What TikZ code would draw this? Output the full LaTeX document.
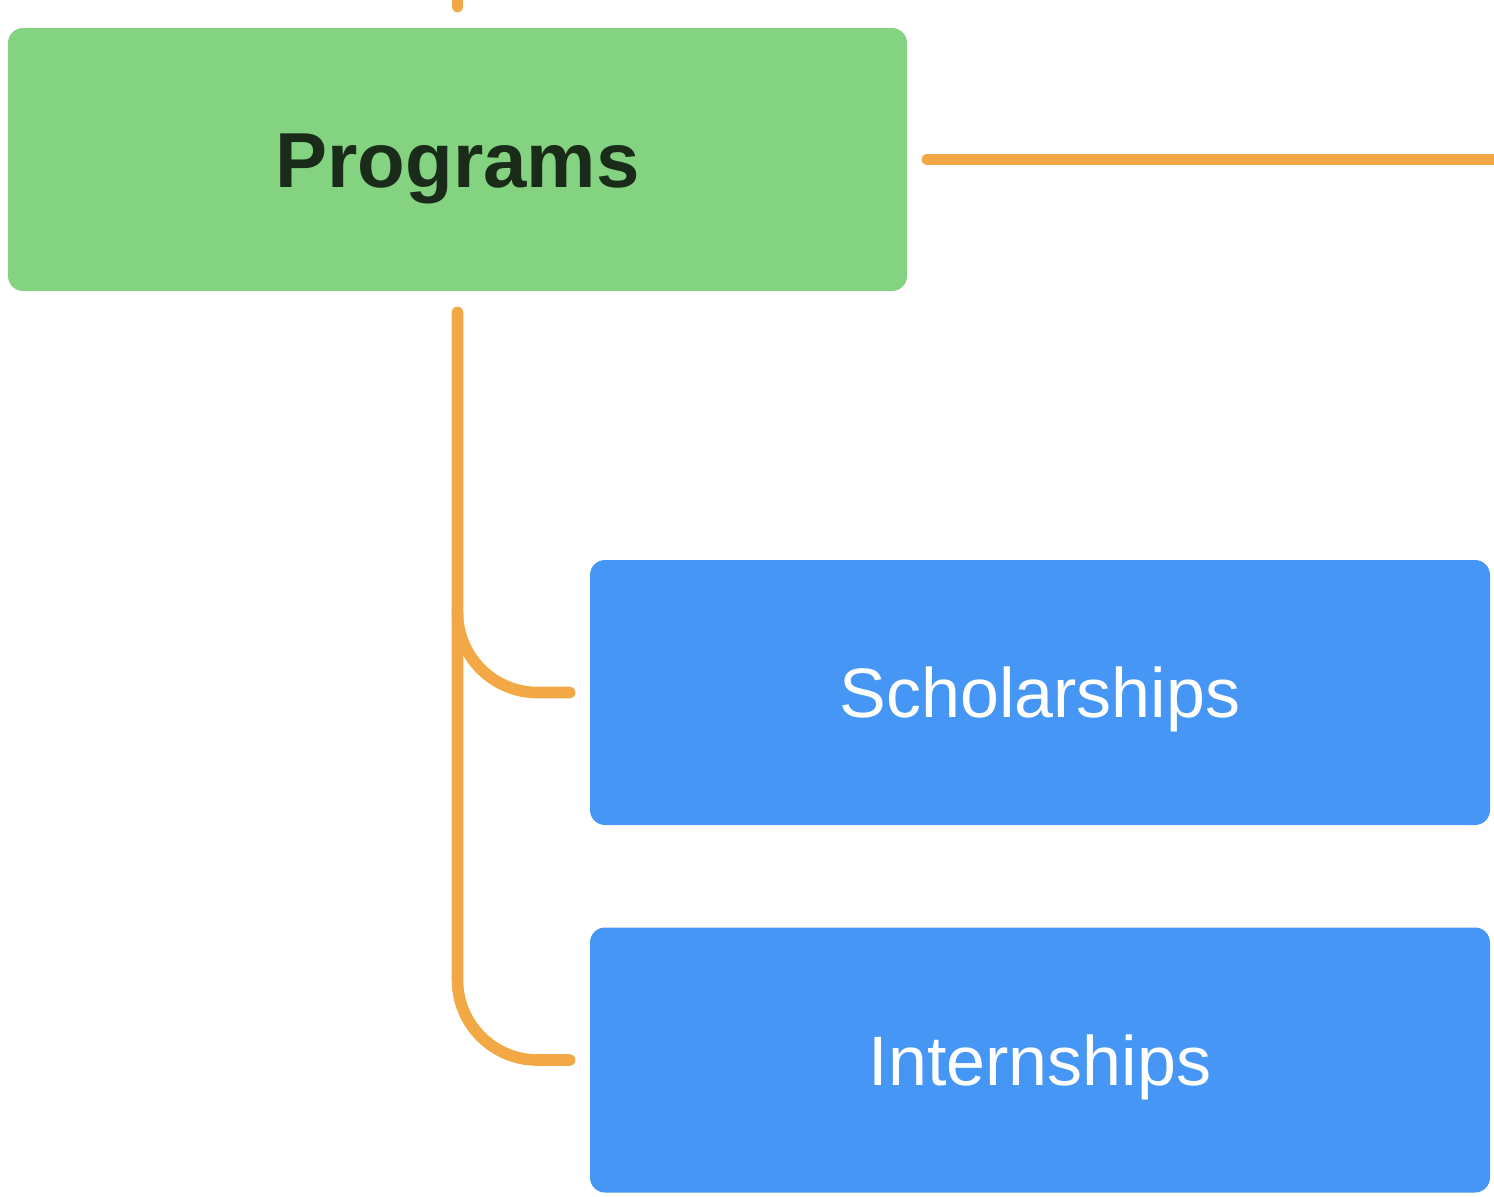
\documentclass[tikz,border=0pt]{standalone}
\usepackage{fontspec}
\setmainfont{Liberation Sans}
\usetikzlibrary{calc}
\definecolor{boxgreen}{HTML}{84D381}
\definecolor{boxblue}{HTML}{4696F5}
\definecolor{lineorange}{HTML}{F2A945}
\definecolor{darktext}{HTML}{1A2B1A}
\tikzset{
  gbox/.style={rectangle, rounded corners=7.5pt, fill=boxgreen, draw=none,
    minimum width=449.5pt, minimum height=131.5pt, inner sep=0pt,
    text height=27.9pt, text depth=0pt,
    text=darktext, font=\fontsize{39}{46}\selectfont\bfseries},
  bbox/.style={rectangle, rounded corners=7.5pt, fill=boxblue, draw=none,
    minimum width=450pt, minimum height=132.5pt, inner sep=0pt,
    text height=25pt, text depth=0pt,
    text=white, font=\fontsize{35}{42}\selectfont},
  conn/.style={draw=lineorange, line width=5.8pt, line cap=round}
}
\begin{document}
\begin{tikzpicture}[x=0.5pt,y=-0.5pt]
\useasboundingbox (0,0) rectangle (1494,1196);
\node[gbox] (prog) at (457.5,159.5) {Programs};
\node[bbox] (schol) at (1040,692.5) {Scholarships};
\node[bbox] (intern) at (1040,1060) {Internships};
\coordinate (topend) at (457.5,-20);
\coordinate (rightend) at (1520,159.5);
\draw[conn] (topend) -- ($(prog.north)+(0,-21)$);
\draw[conn] ($(prog.east)+(20,0)$) -- (rightend);
\draw[conn, rounded corners=40pt] ($(prog.south)+(0,21)$) |- ($(intern.west)+(-20,0)$);
\draw[conn, rounded corners=40pt] ($(prog.south |- schol.west)+(0,-80)$) |- ($(schol.west)+(-20,0)$);
\end{tikzpicture}
\end{document}
